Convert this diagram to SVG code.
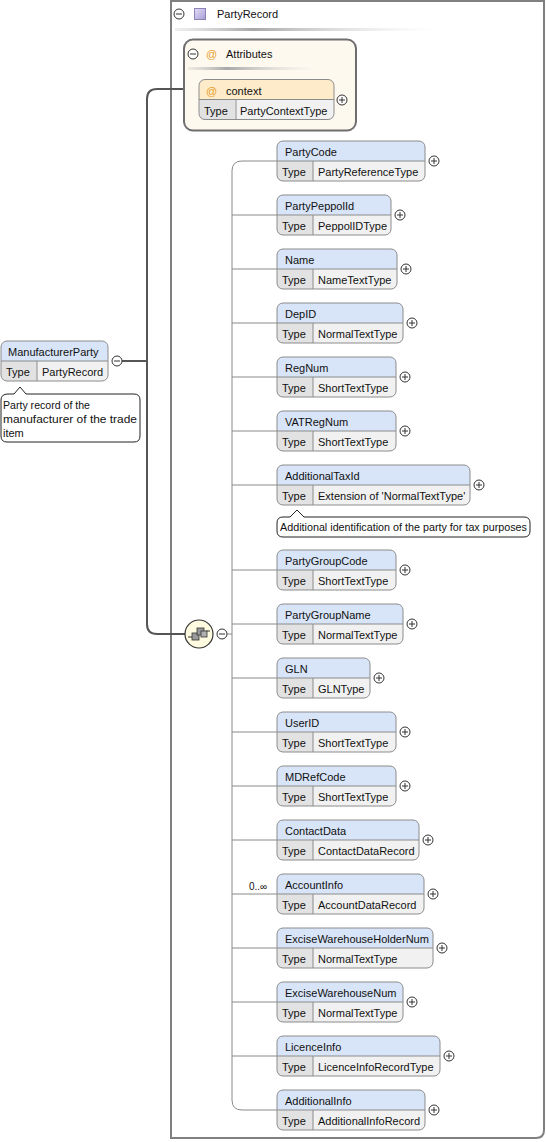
<svg xmlns="http://www.w3.org/2000/svg" width="546" height="1142" viewBox="0 0 546 1142">
<style>
text{font-family:"Liberation Sans",Arial,sans-serif;font-size:11px;fill:#111}
.hd{fill:#D8E4F7}
.ahd{fill:#FDEBC9}
.tr{fill:#F1F1F1}
.tc{fill:#E2E2E2}
.bd{fill:none;stroke:#8C8C8C;stroke-width:1}
.dv{fill:none;stroke:#8C8C8C;stroke-width:1}
.thin{fill:none;stroke:#8A8A8A;stroke-width:1}
.thick{fill:none;stroke:#555;stroke-width:2}
.tip{fill:#fff;stroke:#222;stroke-width:1}
.at{fill:#E8A030}
.sm{font-size:10px}
</style>
<defs>
<g id="plus"><circle r="5" fill="#fff" stroke="#333" stroke-width="1"/><path d="M-3,0H3M0,-3V3" stroke="#333" stroke-width="1"/></g>
<g id="minus"><circle r="5" fill="#fff" stroke="#333" stroke-width="1"/><path d="M-3,0H3" stroke="#333" stroke-width="1"/></g>
<path id="tcell" d="M0,20H36V40H6Q0,40 0,34Z"/>
<linearGradient id="sep" x1="0" x2="1" y1="0" y2="0"><stop offset="0" stop-color="#C8C8C8" stop-opacity="0.3"/><stop offset="0.3" stop-color="#A8A8A8"/><stop offset="1" stop-color="#E0E0E0" stop-opacity="0"/></linearGradient>
<linearGradient id="sq" x1="0" x2="1" y1="0" y2="1"><stop offset="0" stop-color="#E4DEF6"/><stop offset="1" stop-color="#A89CD8"/></linearGradient>
</defs>

<g id="PartyRecord">
<path d="M171,1H544V1130Q544,1138 536,1138H171Z" fill="#fff" stroke="#808080" stroke-width="2"/>
<use href="#minus" x="179" y="14"/>
<rect x="194.5" y="8.5" width="11" height="11" fill="url(#sq)" stroke="#8C84B8" stroke-width="1"/>
<text x="217" y="18">PartyRecord</text>
<rect x="175" y="28" width="260" height="3" fill="url(#sep)"/>
</g>

<g id="connectors">
<path class="thick" d="M122,361H147M184,89H157Q147,89 147,99V624Q147,634 157,634H186"/>
<path class="thin" d="M227,634H232M277,161H242Q232,161 232,171V1100Q232,1110 242,1110H277"/>
<path class="thin" d="M232,215H277M232,269H277M232,323H277M232,377H277M232,431H277M232,485H277M232,570H277M232,624H277M232,678H277M232,732H277M232,786H277M232,840H277M232,894H277M232,948H277M232,1002H277M232,1056H277"/>
</g>

<g id="Attributes">
<rect x="184" y="39.5" width="172" height="91" rx="9" fill="#FEF9EF" stroke="#6E6E6E" stroke-width="2"/>
<use href="#minus" x="193" y="54"/>
<text class="at" x="206" y="58">@</text>
<text x="226" y="58">Attributes</text>
<rect x="188" y="67" width="130" height="3" fill="url(#sep)"/>
</g>

<g id="context" transform="translate(199,79.5)">
<rect width="135" height="40" rx="6" class="ahd"/>
<path class="tr" d="M0,20H135V34Q135,40 129,40H6Q0,40 0,34Z"/>
<use href="#tcell" class="tc"/>
<rect width="135" height="40" rx="6" class="bd"/>
<path class="dv" d="M0,20H135M37,20V40"/>
<text class="at" x="7" y="15">@</text>
<text x="27" y="15">context</text>
<text x="5" y="35">Type</text>
<text x="41" y="35">PartyContextType</text>
<use href="#plus" x="143" y="20.5"/>
</g>

<g id="ManufacturerParty" transform="translate(1,341)">
<rect width="107" height="40" rx="6" class="hd"/>
<path class="tr" d="M0,20H107V34Q107,40 101,40H6Q0,40 0,34Z"/>
<use href="#tcell" class="tc"/>
<rect width="107" height="40" rx="6" class="bd"/>
<path class="dv" d="M0,20H107M36,20V40"/>
<text x="7" y="15">ManufacturerParty</text>
<text x="5" y="35">Type</text>
<text x="41" y="35">PartyRecord</text>
<use href="#minus" x="116" y="20"/>
<path class="tip" d="M7,53H13L19,46L25,53H133Q139,53 139,59V95Q139,101 133,101H6Q0,101 0,95V59Q0,53 7,53Z"/>
<text x="2" y="68" textLength="87" lengthAdjust="spacingAndGlyphs">Party record of the</text>
<text x="2" y="82" textLength="134" lengthAdjust="spacingAndGlyphs">manufacturer of the trade</text>
<text x="2" y="96">item</text>
</g>

<g id="sequence">
<circle cx="199" cy="634" r="14" fill="#FFFBE0" stroke="#333" stroke-width="1.2"/>
<path d="M188,637H192M206,631H210" stroke="#333" stroke-width="1"/>
<rect x="192" y="633" width="7" height="7" fill="#9A9A9A" stroke="#333" stroke-width="0.8"/>
<rect x="197" y="628" width="7" height="7" fill="#9A9A9A" stroke="#333" stroke-width="0.8"/>
<rect x="201" y="631" width="6" height="6" fill="#B0B0B0" stroke="#333" stroke-width="0.8"/>
<use href="#minus" x="222" y="634"/>
</g>

<g id="PartyCode" transform="translate(277,141)">
<rect width="148" height="40" rx="6" class="hd"/>
<path class="tr" d="M0,20H148V34Q148,40 142,40H6Q0,40 0,34Z"/>
<use href="#tcell" class="tc"/><rect width="148" height="40" rx="6" class="bd"/>
<path class="dv" d="M0,20H148M36,20V40"/>
<text x="8" y="15">PartyCode</text><text x="5" y="35">Type</text><text x="41" y="35">PartyReferenceType</text>
<use href="#plus" x="157" y="20"/>
</g>

<g id="PartyPeppolId" transform="translate(277,195)">
<rect width="114" height="40" rx="6" class="hd"/>
<path class="tr" d="M0,20H114V34Q114,40 108,40H6Q0,40 0,34Z"/>
<use href="#tcell" class="tc"/><rect width="114" height="40" rx="6" class="bd"/>
<path class="dv" d="M0,20H114M36,20V40"/>
<text x="8" y="15">PartyPeppolId</text><text x="5" y="35">Type</text><text x="41" y="35">PeppolIDType</text>
<use href="#plus" x="123" y="20"/>
</g>

<g id="Name" transform="translate(277,249)">
<rect width="120" height="40" rx="6" class="hd"/>
<path class="tr" d="M0,20H120V34Q120,40 114,40H6Q0,40 0,34Z"/>
<use href="#tcell" class="tc"/><rect width="120" height="40" rx="6" class="bd"/>
<path class="dv" d="M0,20H120M36,20V40"/>
<text x="8" y="15">Name</text><text x="5" y="35">Type</text><text x="41" y="35">NameTextType</text>
<use href="#plus" x="129" y="20"/>
</g>

<g id="DepID" transform="translate(277,303)">
<rect width="126" height="40" rx="6" class="hd"/>
<path class="tr" d="M0,20H126V34Q126,40 120,40H6Q0,40 0,34Z"/>
<use href="#tcell" class="tc"/><rect width="126" height="40" rx="6" class="bd"/>
<path class="dv" d="M0,20H126M36,20V40"/>
<text x="8" y="15">DepID</text><text x="5" y="35">Type</text><text x="41" y="35">NormalTextType</text>
<use href="#plus" x="135" y="20"/>
</g>

<g id="RegNum" transform="translate(277,357)">
<rect width="119" height="40" rx="6" class="hd"/>
<path class="tr" d="M0,20H119V34Q119,40 113,40H6Q0,40 0,34Z"/>
<use href="#tcell" class="tc"/><rect width="119" height="40" rx="6" class="bd"/>
<path class="dv" d="M0,20H119M36,20V40"/>
<text x="8" y="15">RegNum</text><text x="5" y="35">Type</text><text x="41" y="35">ShortTextType</text>
<use href="#plus" x="128" y="20"/>
</g>

<g id="VATRegNum" transform="translate(277,411)">
<rect width="119" height="40" rx="6" class="hd"/>
<path class="tr" d="M0,20H119V34Q119,40 113,40H6Q0,40 0,34Z"/>
<use href="#tcell" class="tc"/><rect width="119" height="40" rx="6" class="bd"/>
<path class="dv" d="M0,20H119M36,20V40"/>
<text x="8" y="15">VATRegNum</text><text x="5" y="35">Type</text><text x="41" y="35">ShortTextType</text>
<use href="#plus" x="128" y="20"/>
</g>

<g id="AdditionalTaxId" transform="translate(277,465)">
<rect width="193" height="40" rx="6" class="hd"/>
<path class="tr" d="M0,20H193V34Q193,40 187,40H6Q0,40 0,34Z"/>
<use href="#tcell" class="tc"/><rect width="193" height="40" rx="6" class="bd"/>
<path class="dv" d="M0,20H193M36,20V40"/>
<text x="8" y="15">AdditionalTaxId</text><text x="5" y="35">Type</text><text x="41" y="35">Extension of 'NormalTextType'</text>
<use href="#plus" x="202" y="20"/>
<path class="tip" d="M6,52H13L20,45L27,52H247Q253,52 253,58V66Q253,72 247,72H6Q0,72 0,66V58Q0,52 6,52Z"/>
<text class="sm" x="3" y="66" textLength="247" lengthAdjust="spacingAndGlyphs">Additional identification of the party for tax purposes</text>
</g>

<g id="PartyGroupCode" transform="translate(277,550)">
<rect width="119" height="40" rx="6" class="hd"/>
<path class="tr" d="M0,20H119V34Q119,40 113,40H6Q0,40 0,34Z"/>
<use href="#tcell" class="tc"/><rect width="119" height="40" rx="6" class="bd"/>
<path class="dv" d="M0,20H119M36,20V40"/>
<text x="8" y="15">PartyGroupCode</text><text x="5" y="35">Type</text><text x="41" y="35">ShortTextType</text>
<use href="#plus" x="128" y="20"/>
</g>

<g id="PartyGroupName" transform="translate(277,604)">
<rect width="126" height="40" rx="6" class="hd"/>
<path class="tr" d="M0,20H126V34Q126,40 120,40H6Q0,40 0,34Z"/>
<use href="#tcell" class="tc"/><rect width="126" height="40" rx="6" class="bd"/>
<path class="dv" d="M0,20H126M36,20V40"/>
<text x="8" y="15">PartyGroupName</text><text x="5" y="35">Type</text><text x="41" y="35">NormalTextType</text>
<use href="#plus" x="135" y="20"/>
</g>

<g id="GLN" transform="translate(277,658)">
<rect width="93" height="40" rx="6" class="hd"/>
<path class="tr" d="M0,20H93V34Q93,40 87,40H6Q0,40 0,34Z"/>
<use href="#tcell" class="tc"/><rect width="93" height="40" rx="6" class="bd"/>
<path class="dv" d="M0,20H93M36,20V40"/>
<text x="8" y="15">GLN</text><text x="5" y="35">Type</text><text x="41" y="35">GLNType</text>
<use href="#plus" x="102" y="20"/>
</g>

<g id="UserID" transform="translate(277,712)">
<rect width="119" height="40" rx="6" class="hd"/>
<path class="tr" d="M0,20H119V34Q119,40 113,40H6Q0,40 0,34Z"/>
<use href="#tcell" class="tc"/><rect width="119" height="40" rx="6" class="bd"/>
<path class="dv" d="M0,20H119M36,20V40"/>
<text x="8" y="15">UserID</text><text x="5" y="35">Type</text><text x="41" y="35">ShortTextType</text>
<use href="#plus" x="128" y="20"/>
</g>

<g id="MDRefCode" transform="translate(277,766)">
<rect width="119" height="40" rx="6" class="hd"/>
<path class="tr" d="M0,20H119V34Q119,40 113,40H6Q0,40 0,34Z"/>
<use href="#tcell" class="tc"/><rect width="119" height="40" rx="6" class="bd"/>
<path class="dv" d="M0,20H119M36,20V40"/>
<text x="8" y="15">MDRefCode</text><text x="5" y="35">Type</text><text x="41" y="35">ShortTextType</text>
<use href="#plus" x="128" y="20"/>
</g>

<g id="ContactData" transform="translate(277,820)">
<rect width="142" height="40" rx="6" class="hd"/>
<path class="tr" d="M0,20H142V34Q142,40 136,40H6Q0,40 0,34Z"/>
<use href="#tcell" class="tc"/><rect width="142" height="40" rx="6" class="bd"/>
<path class="dv" d="M0,20H142M36,20V40"/>
<text x="8" y="15">ContactData</text><text x="5" y="35">Type</text><text x="41" y="35">ContactDataRecord</text>
<use href="#plus" x="151" y="20"/>
</g>

<g id="AccountInfo" transform="translate(277,874)">
<rect width="147" height="40" rx="6" class="hd"/>
<path class="tr" d="M0,20H147V34Q147,40 141,40H6Q0,40 0,34Z"/>
<use href="#tcell" class="tc"/><rect width="147" height="40" rx="6" class="bd"/>
<path class="dv" d="M0,20H147M36,20V40"/>
<text x="8" y="15">AccountInfo</text><text x="5" y="35">Type</text><text x="41" y="35">AccountDataRecord</text>
<use href="#plus" x="156" y="20"/>
<text class="sm" x="-28" y="16">0..∞</text>
</g>

<g id="ExciseWarehouseHolderNum" transform="translate(277,928)">
<rect width="156" height="40" rx="6" class="hd"/>
<path class="tr" d="M0,20H156V34Q156,40 150,40H6Q0,40 0,34Z"/>
<use href="#tcell" class="tc"/><rect width="156" height="40" rx="6" class="bd"/>
<path class="dv" d="M0,20H156M36,20V40"/>
<text x="8" y="15">ExciseWarehouseHolderNum</text><text x="5" y="35">Type</text><text x="41" y="35">NormalTextType</text>
<use href="#plus" x="165" y="20"/>
</g>

<g id="ExciseWarehouseNum" transform="translate(277,982)">
<rect width="126" height="40" rx="6" class="hd"/>
<path class="tr" d="M0,20H126V34Q126,40 120,40H6Q0,40 0,34Z"/>
<use href="#tcell" class="tc"/><rect width="126" height="40" rx="6" class="bd"/>
<path class="dv" d="M0,20H126M36,20V40"/>
<text x="8" y="15">ExciseWarehouseNum</text><text x="5" y="35">Type</text><text x="41" y="35">NormalTextType</text>
<use href="#plus" x="135" y="20"/>
</g>

<g id="LicenceInfo" transform="translate(277,1036)">
<rect width="163" height="40" rx="6" class="hd"/>
<path class="tr" d="M0,20H163V34Q163,40 157,40H6Q0,40 0,34Z"/>
<use href="#tcell" class="tc"/><rect width="163" height="40" rx="6" class="bd"/>
<path class="dv" d="M0,20H163M36,20V40"/>
<text x="8" y="15">LicenceInfo</text><text x="5" y="35">Type</text><text x="41" y="35">LicenceInfoRecordType</text>
<use href="#plus" x="172" y="20"/>
</g>

<g id="AdditionalInfo" transform="translate(277,1090)">
<rect width="148" height="40" rx="6" class="hd"/>
<path class="tr" d="M0,20H148V34Q148,40 142,40H6Q0,40 0,34Z"/>
<use href="#tcell" class="tc"/><rect width="148" height="40" rx="6" class="bd"/>
<path class="dv" d="M0,20H148M36,20V40"/>
<text x="8" y="15">AdditionalInfo</text><text x="5" y="35">Type</text><text x="41" y="35">AdditionalInfoRecord</text>
<use href="#plus" x="157" y="20"/>
</g>
</svg>
